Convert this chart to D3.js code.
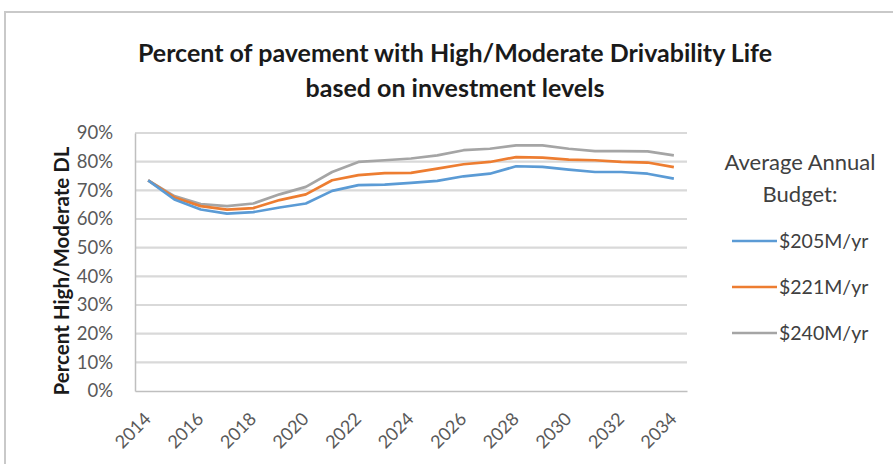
<!DOCTYPE html>
<html><head><meta charset="utf-8">
<script src="https://cdn.jsdelivr.net/npm/d3@7"></script>
<style>body{margin:0;background:#fff;}svg{display:block;font-family:Lato,"Open Sans",sans-serif;}</style>
</head><body><svg id="c" width="893" height="464"></svg>
<script>
const years = d3.range(2014, 2035);
const seriesNames = ["$205M/yr", "$221M/yr", "$240M/yr"];
const colors = ["#5B9BD5", "#ED7D31", "#A5A5A5"];
const s205 = [73.5,66.8,63.3,61.9,62.4,64.0,65.4,69.8,71.8,72.0,72.6,73.3,74.9,75.8,78.4,78.2,77.2,76.4,76.4,75.8,74.1];
const s221 = [73.5,67.5,64.5,63.3,63.8,66.6,68.6,73.5,75.3,76.0,76.1,77.6,79.1,79.9,81.6,81.4,80.7,80.5,79.9,79.7,78.1];
const s240 = [73.5,68.0,65.2,64.5,65.4,68.6,71.2,76.4,79.9,80.5,81.1,82.2,84.0,84.5,85.7,85.7,84.5,83.7,83.7,83.6,82.2];
const yTicks = [0,10,20,30,40,50,60,70,80,90];
const xTickLabels = ["2014","2016","2018","2020","2022","2024","2026","2028","2030","2032","2034"];
const titleLines = ["Percent of pavement with High/Moderate Drivability Life","based on investment levels"];
const yTitle = "Percent High/Moderate DL";
const legendTitle = ["Average Annual","Budget:"];

const svg = d3.select("#c");
// frame
svg.append("rect").attr("x",5).attr("y",12).attr("width",900).attr("height",470)
  .attr("fill","#fff").attr("stroke","#c9c9c9").attr("stroke-width",2);

const x = d3.scaleBand().domain(years).range([135,687]);
const y = d3.scaleLinear().domain([0,90]).range([391,133]);

// gridlines
svg.append("g").selectAll("line").data(yTicks.filter(d=>d>0)).join("line")
  .attr("x1",135).attr("x2",687).attr("y1",d=>y(d)).attr("y2",d=>y(d))
  .attr("stroke","#d9d9d9").attr("stroke-width",2.2);

// axes
const ya = svg.append("g").attr("transform","translate(135,0)")
  .call(d3.axisLeft(y).tickValues(yTicks).tickFormat(d=>d+"%").tickSize(0).tickPadding(22));
ya.select(".domain").attr("stroke","#bfbfbf").attr("stroke-width",1.5);
ya.selectAll("text").attr("font-size",18.5).attr("fill","#595959").attr("font-family","Lato,sans-serif");

const xa = svg.append("g").attr("transform","translate(0,391)")
  .call(d3.axisBottom(x).tickValues(xTickLabels.map(Number)).tickSize(0).tickPadding(0));
xa.select(".domain").attr("stroke","#bfbfbf").attr("stroke-width",1.5);
xa.selectAll("text").attr("font-size",18).attr("fill","#595959").attr("font-family","Lato,sans-serif")
  .attr("text-anchor","end").attr("dy",null)
  .attr("transform","translate(4,29) rotate(-45)");

// lines
const data = [s205,s221,s240];
const line = d3.line().x((d,i)=>x(years[i])+x.bandwidth()/2).y(d=>y(d));
[2,1,0].forEach(k=>{
  svg.append("path").datum(data[k]).attr("d",line).attr("fill","none")
    .attr("stroke",colors[k]).attr("stroke-width",2.7).attr("stroke-linejoin","round");
});

// title
svg.append("g").selectAll("text").data(titleLines).join("text")
  .attr("x",455).attr("y",(d,i)=>62+i*35).attr("text-anchor","middle")
  .attr("font-size",25).attr("font-weight","bold").attr("fill","#1a1a1a").text(d=>d);

// y title
svg.append("text").attr("transform","translate(69,271) rotate(-90)").attr("text-anchor","middle")
  .attr("font-size",20.5).attr("font-weight","bold").attr("fill","#1a1a1a").text(yTitle);

// legend
svg.append("g").selectAll("text").data(legendTitle).join("text")
  .attr("x",800).attr("y",(d,i)=>170+i*32).attr("text-anchor","middle")
  .attr("font-size",22).attr("fill","#404040").text(d=>d);
const lg = svg.append("g").selectAll("g").data(seriesNames).join("g")
  .attr("transform",(d,i)=>`translate(0,${241+i*46})`);
lg.append("line").attr("x1",732).attr("x2",777).attr("stroke",(d,i)=>colors[i]).attr("stroke-width",2.7);
lg.append("text").attr("x",779).attr("y",6.5).attr("font-size",19.5).attr("fill","#404040").text(d=>d);
</script></body></html>
